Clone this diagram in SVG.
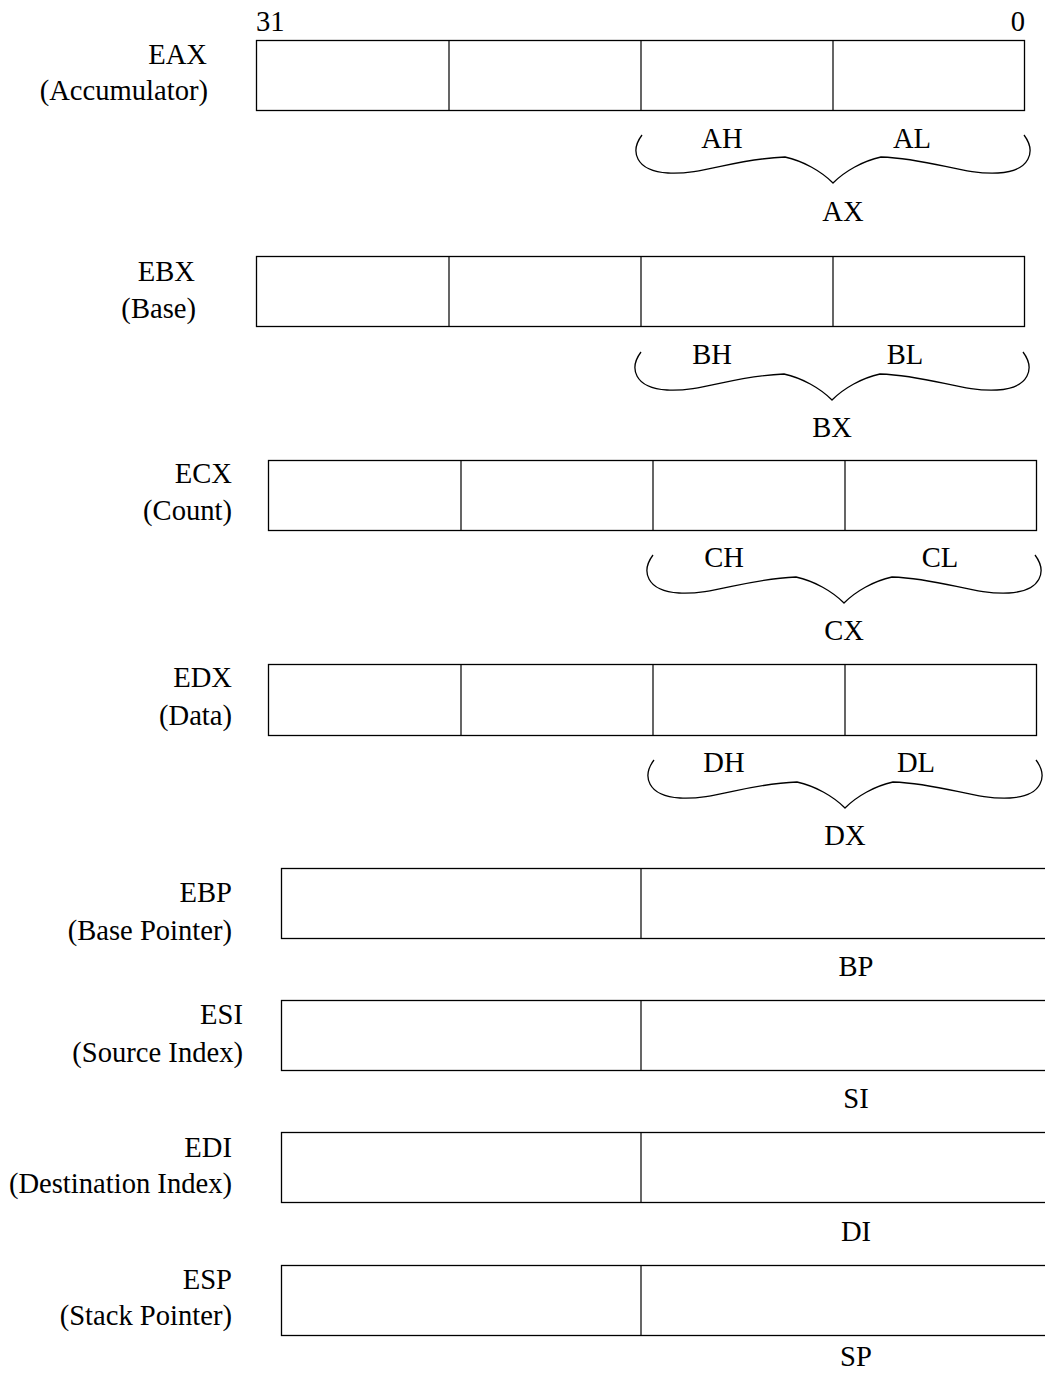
<svg xmlns="http://www.w3.org/2000/svg" width="1045" height="1373" viewBox="0 0 1045 1373">
<style>
text{font-family:"Liberation Serif","Times New Roman",serif;font-size:28.6px;fill:#000}
.r{text-anchor:end}
.m{text-anchor:middle}
.box{fill:#fff;stroke:#000;stroke-width:1.3}
.div{stroke:#000;stroke-width:1.2;fill:none}
.brace{fill:none;stroke:#000;stroke-width:1.3}
</style>
<defs>
<path id="br" d="M-191,-48 C-203,-32 -198,-12 -165,-10 C-130,-8 -100,-24 -48,-26 C-30,-22 -12,-12 0,0 C12,-12 30,-22 48,-26 C100,-24 130,-8 165,-10 C198,-12 203,-32 191,-48"/>
</defs>
<rect width="1045" height="1373" fill="#fff"/>
<text x="256" y="31">31</text>
<text x="1025" y="31" class="r">0</text>

<g id="eax">
<text x="207" y="64" class="r">EAX</text>
<text x="208" y="100" class="r">(Accumulator)</text>
<rect class="box" x="256.5" y="40.5" width="768" height="70"/>
<path class="div" d="M449,40.5V110.5M641,40.5V110.5M833,40.5V110.5"/>
<text x="722" y="148" class="m">AH</text>
<text x="912" y="148" class="m">AL</text>
<text x="843" y="221" class="m">AX</text>
</g>

<g id="ebx">
<text x="195" y="281" class="r">EBX</text>
<text x="196" y="318" class="r">(Base)</text>
<rect class="box" x="256.5" y="256.5" width="768" height="70"/>
<path class="div" d="M449,256.5V326.5M641,256.5V326.5M833,256.5V326.5"/>
<text x="712" y="364" class="m">BH</text>
<text x="905" y="364" class="m">BL</text>
<text x="832" y="437" class="m">BX</text>
</g>

<g id="ecx">
<text x="232" y="483" class="r">ECX</text>
<text x="232" y="520" class="r">(Count)</text>
<rect class="box" x="268.5" y="460.5" width="768" height="70"/>
<path class="div" d="M461,460.5V530.5M653,460.5V530.5M845,460.5V530.5"/>
<text x="724" y="567" class="m">CH</text>
<text x="940" y="567" class="m">CL</text>
<text x="844" y="640" class="m">CX</text>
</g>

<g id="edx">
<text x="232" y="687" class="r">EDX</text>
<text x="232" y="725" class="r">(Data)</text>
<rect class="box" x="268.5" y="664.5" width="768" height="71"/>
<path class="div" d="M461,664.5V735.5M653,664.5V735.5M845,664.5V735.5"/>
<text x="724" y="772" class="m">DH</text>
<text x="916" y="772" class="m">DL</text>
<text x="845" y="845" class="m">DX</text>
</g>

<g id="ebp">
<text x="232" y="902" class="r">EBP</text>
<text x="232" y="940" class="r">(Base Pointer)</text>
<rect class="box" x="281.5" y="868.5" width="800" height="70"/>
<path class="div" d="M641,868.5V938.5"/>
<text x="856" y="976" class="m">BP</text>
</g>

<g id="esi">
<text x="243" y="1024" class="r">ESI</text>
<text x="243" y="1062" class="r">(Source Index)</text>
<rect class="box" x="281.5" y="1000.5" width="800" height="70"/>
<path class="div" d="M641,1000.5V1070.5"/>
<text x="856" y="1108" class="m">SI</text>
</g>

<g id="edi">
<text x="232" y="1157" class="r">EDI</text>
<text x="232" y="1193" class="r">(Destination Index)</text>
<rect class="box" x="281.5" y="1132.5" width="800" height="70"/>
<path class="div" d="M641,1132.5V1202.5"/>
<text x="856" y="1241" class="m">DI</text>
</g>

<g id="esp">
<text x="232" y="1289" class="r">ESP</text>
<text x="232" y="1325" class="r">(Stack Pointer)</text>
<rect class="box" x="281.5" y="1265.5" width="800" height="70"/>
<path class="div" d="M641,1265.5V1335.5"/>
<text x="856" y="1366" class="m">SP</text>
</g>

<g id="connectors">
<use href="#br" class="brace" transform="translate(833,183)"/>
<use href="#br" class="brace" transform="translate(832,400)"/>
<use href="#br" class="brace" transform="translate(844,603)"/>
<use href="#br" class="brace" transform="translate(845,808)"/>
</g>
</svg>
